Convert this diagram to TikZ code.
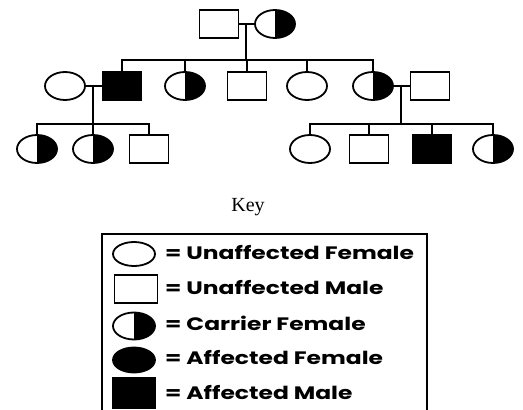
\documentclass[tikz,border=0pt]{standalone}
\usepackage{fontspec}
\newfontfamily\keyfont{Poppins}
\newfontfamily\titlefont{Liberation Serif}
\usetikzlibrary{shapes.geometric}
\newcommand{\keylabel}[1]{\scalebox{1.3}[1]{#1}}
\tikzset{
  sym/.style={draw=black, line width=1.8pt, inner sep=0pt},
  fem/.style={sym, ellipse, minimum width=40pt, minimum height=28pt},
  mal/.style={sym, rectangle, minimum width=39pt, minimum height=28pt},
  carrier/.style={fem, path picture={\fill[black] (path picture bounding box.north) rectangle (path picture bounding box.south east);}},
  aff/.style={fill=black},
  link/.style={line width=2.8pt, line cap=rect},
  kfem/.style={sym, ellipse, minimum width=42pt, minimum height=24pt},
  kmal/.style={sym, rectangle, minimum width=43pt, minimum height=28pt},
  kcarrier/.style={kfem, minimum height=27pt, path picture={\fill[black] (path picture bounding box.north) rectangle (path picture bounding box.south east);}},
  ktext/.style={anchor=west, inner sep=0pt, font=\keyfont\bfseries\fontsize{18}{20}\selectfont},
}
\begin{document}
\begin{tikzpicture}[x=1pt, y=-1pt]
\useasboundingbox (0,0) rectangle (523,410);
% Generation I
\node[mal] (g1m) at (219,24) {};
\node[carrier] (g1f) at (275,24) {};
% Generation II
\node[fem] (a1) at (65,86) {};
\node[mal, aff] (a2) at (122,86) {};
\node[carrier] (a3) at (185,86) {};
\node[mal] (a4) at (247,86) {};
\node[fem] (a5) at (307,86) {};
\node[carrier] (a6) at (373,86) {};
\node[mal] (a7) at (430,86) {};
% Generation III
\node[carrier] (b1) at (37,149) {};
\node[carrier] (b2) at (93,149) {};
\node[mal] (b3) at (149,149) {};
\node[fem] (c1) at (310,149) {};
\node[mal] (c2) at (369,149) {};
\node[mal, aff] (c3) at (432,149) {};
\node[carrier] (c4) at (493,149) {};
% coordinates
\coordinate (m1) at (246,24);
\coordinate (s1) at (246,60);
\coordinate (m2) at (93,86);
\coordinate (s2) at (93,124);
\coordinate (m3) at (401,86);
\coordinate (s3) at (401,124);
% Gen I connections
\draw[link] (g1m.east) -- (g1f.west);
\draw[link] (m1) -- (s1);
\draw[link] (a2.north |- s1) -- (a6.north |- s1);
\foreach \n in {a2,a3,a4,a5,a6} \draw[link] (\n.north |- s1) -- (\n.north);
% left family
\draw[link] (a1.east) -- (a2.west);
\draw[link] (m2) -- (s2);
\draw[link] (b1.north |- s2) -- (b3.north |- s2);
\foreach \n in {b1,b2,b3} \draw[link] (\n.north |- s2) -- (\n.north);
% right family
\draw[link] (a6.east) -- (a7.west);
\draw[link] (m3) -- (s3);
\draw[link] (c1.north |- s3) -- (c4.north |- s3);
\foreach \n in {c1,c2,c3,c4} \draw[link] (\n.north |- s3) -- (\n.north);
% Key
\node[font=\titlefont\fontsize{20}{22}\selectfont, inner sep=0pt] (keytitle) at (248,207) {Key};
\draw[line width=1.5pt] (102,420) -- (102,234) -- (427,234) -- (427,420);
\node[kfem] (k1) at (134,254) {};
\node[kmal] (k2) at (136,289) {};
\node[kcarrier] (k3) at (134,326) {};
\node[kfem, aff, minimum height=25pt] (k4) at (134,360) {};
\node[kmal, aff, minimum height=30pt] (k5) at (134,393) {};
\node[ktext] (t1) at (165,253) {\keylabel{= Unaffected Female}};
\node[ktext] (t2) at (165,288) {\keylabel{= Unaffected Male}};
\node[ktext] (t3) at (165,323) {\keylabel{= Carrier Female}};
\node[ktext] (t4) at (165,358) {\keylabel{= Affected Female}};
\node[ktext] (t5) at (165,393) {\keylabel{= Affected Male}};
\end{tikzpicture}
\end{document}
